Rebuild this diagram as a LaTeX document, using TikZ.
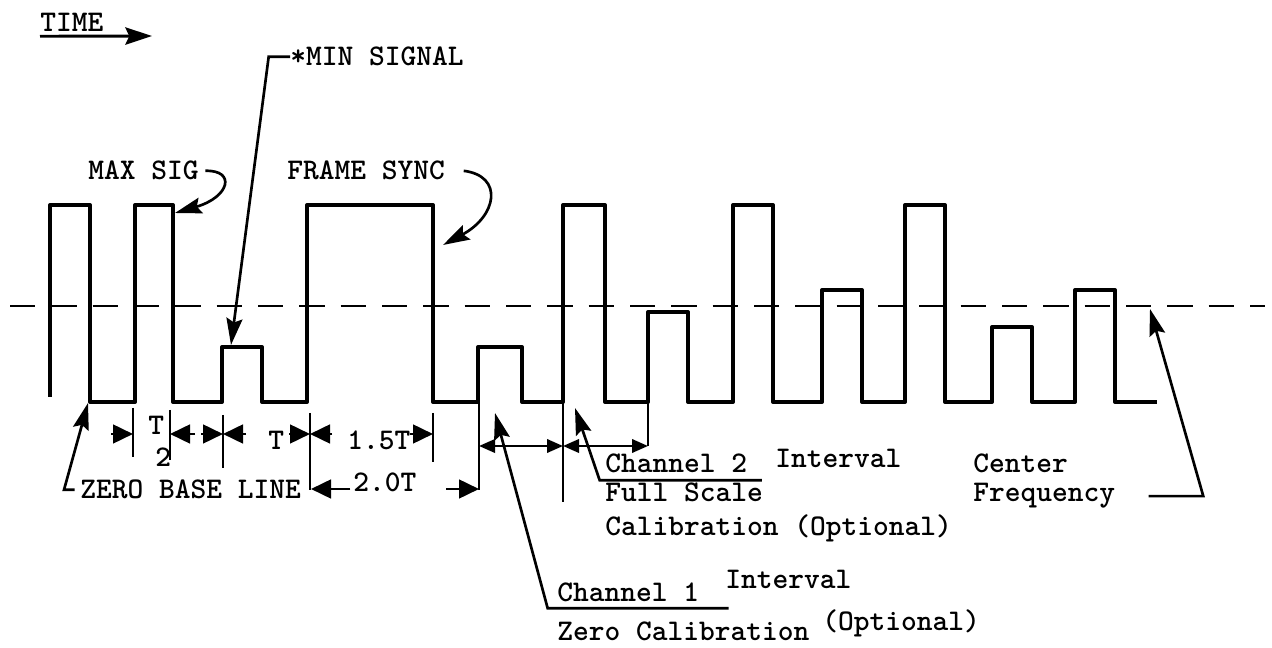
\documentclass[tikz,border=0pt]{standalone}
\usepackage{fontspec}
\usetikzlibrary{arrows.meta}

\newcommand{\sigfont}{\ttfamily\bfseries\fontsize{22.5}{26}\selectfont}

\begin{document}
\begin{tikzpicture}[
    x=0.75pt, y=-0.75pt,
    >=Stealth,
    wave/.style={line width=3pt, line join=round},
    midline/.style={line width=2.2pt, dash pattern=on 19pt off 12pt},
    lbl/.style={font=\sigfont, inner sep=0pt, anchor=base west},
    lead/.style={line width=2pt, -{Stealth[length=20pt, width=12pt, inset=3pt]}},
    dimarr/.style={line width=2pt, -{Triangle[length=15pt, width=14pt]}},
    chdim/.style={line width=2pt,
        {Triangle[length=12pt, width=10pt]}-{Triangle[length=12pt, width=10pt]}},
    tick/.style={line width=2pt},
]
\useasboundingbox (0,0) rectangle (1272,648);

%% center frequency line
\draw[midline] (10,306) -- (1265,306);

%% pulse train
\draw[wave] (50,397) |- (90,205) |- (135,402) |- (173,205) |- (222,402)
    |- (262,347) |- (307,402) |- (433,205) |- (478,402) |- (522,347)
    |- (563,402) |- (605,205) |- (648,402) |- (688,312) |- (733,402)
    |- (773,205) |- (822,402) |- (862,290) |- (905,402) |- (945,205)
    |- (992,402) |- (1032,327) |- (1075,402) |- (1115,290) |- (1157,402);

%% time direction
\node[lbl] (time) at (40,32) {TIME};
\coordinate (timetip) at (152,36);
\draw[line width=2.2pt, -{Stealth[length=20pt, width=13pt, inset=3pt]}]
    ([yshift=-3pt]time.south west) -- (timetip);

%% labels on top
\node[lbl] (minsig) at (290,66) {*MIN SIGNAL};
\coordinate (mintip) at (231,345);
\draw[lead] (minsig.west) -- ([xshift=-16pt]minsig.west) -- (mintip);

\node[lbl] (maxsig) at (88,180) {MAX SIG};
\coordinate (maxtip) at (175,213);
\draw[lead] ([xshift=5pt]maxsig.east) .. controls (236,170) and (230,197) .. (maxtip);

\node[lbl] (fsync) at (287,180) {FRAME SYNC};
\coordinate (synctip) at (443,245);
\draw[lead] ([xshift=14pt]fsync.east) .. controls (504,176) and (497,216) .. (synctip);

%% zero base line
\node[lbl] (zbl) at (80,499) {ZERO BASE LINE};
\coordinate (zbltip) at (88,403);
\draw[lead] ([xshift=-4pt]zbl.west) -- ([xshift=-12pt]zbl.west) -- (zbltip);

%% timing dimensions
\foreach \x/\ya/\yb in {133/408/457, 170/410/460, 223/415/468, 310/413/490, 433/413/462}
    \draw[tick] (\x,\ya) -- (\x,\yb);
\foreach \a/\b in {111/133, 195/170, 201/223, 246/223, 289/310, 332/310, 410/433}
    \draw[dimarr] (\a,434) -- (\b,434);

\node[lbl] (thalf) at (148,435) {T};
\node[lbl] (thalftwo) at (155,467) {2};
\node[lbl] (tper) at (268,450) {T};
\node[lbl] (tonehalf) at (347,450) {1.5T};
\node[lbl] (ttwo) at (353,492) {2.0T};

\coordinate (twoleft) at (311,489);
\coordinate (tworight) at (479,489);
\draw[dimarr] ([xshift=-2pt]ttwo.west |- twoleft) -- (twoleft);
\draw[dimarr] (446,489) -- (tworight);

%% channel intervals
\draw[tick] (479,402) -- (479,490);
\draw[tick] (563,402) -- (563,502);
\draw[tick] (648,402) -- (648,446);
\draw[chdim] (479,446) -- (563,446);
\draw[chdim] (563,446) -- (648,446);

%% channel 2 text
\node[lbl] (chtwo) at (605,473) {Channel 2};
\node[lbl] (chtwoint) at (775,468) {Interval};
\node[lbl] (chtwofull) at (605,502) {Full Scale};
\node[lbl] (chtwocal) at (605,536) {Calibration (Optional)};
\coordinate (chtwotip) at (575,408);
\draw[lead] ([shift={(11pt,-5pt)}]chtwo.south east)
    -- ([shift={(-4pt,-5pt)}]chtwo.south west) -- (chtwotip);

%% channel 1 text
\node[lbl] (chone) at (557,601) {Channel 1};
\node[lbl] (choneint) at (725,589) {Interval};
\node[lbl] (chonezero) at (557,640) {Zero Calibration};
\node[lbl] (choneopt) at (822,630) {(Optional)};
\coordinate (chonetip) at (495,413);
\draw[lead] ([shift={(22pt,-5pt)}]chone.south east)
    -- ([shift={(-7pt,-5pt)}]chone.south west) -- (chonetip);

%% center frequency
\node[lbl] (cfone) at (973,473) {Center};
\node[lbl] (cftwo) at (973,502) {Frequency};
\coordinate (cftip) at (1150,309);
\draw[lead] ([xshift=25pt]cftwo.east) -- ([xshift=66pt]cftwo.east) -- (cftip);

\end{tikzpicture}
\end{document}
